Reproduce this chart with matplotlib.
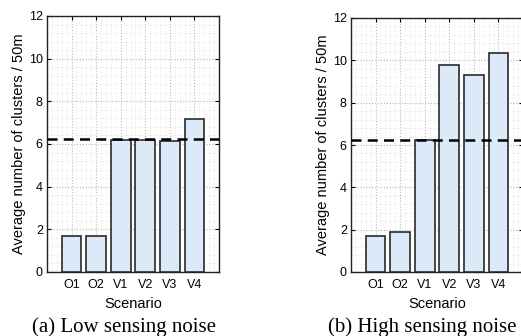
import matplotlib.pyplot as plt
from matplotlib.ticker import MultipleLocator

scenarios = ['O1', 'O2', 'V1', 'V2', 'V3', 'V4']
low_noise = [1.71, 1.71, 6.19, 6.2, 6.12, 7.17]
high_noise = [1.72, 1.9, 6.22, 9.76, 9.32, 10.33]
baseline = 6.22
captions = ['(a) Low sensing noise', '(b) High sensing noise']

plt.rcParams['font.family'] = 'Liberation Sans'

fig = plt.figure(figsize=(5.21, 3.36), dpi=100)
ax1 = fig.add_axes([47/521, 1 - 272/336, 172/521, 256/336])
ax2 = fig.add_axes([351/521, 1 - 272/336, 172/521, 254/336])

pos = list(range(1, len(scenarios) + 1))
for ax, vals, cap, cx in [(ax1, low_noise, captions[0], 124/521), (ax2, high_noise, captions[1], 422/521)]:
    ax.bar(pos, vals, width=0.8, color='#dce9f8', edgecolor='#2a2a2a', linewidth=1.2, zorder=3)
    ax.axhline(baseline, color='black', linestyle=(0, (4, 2.5)), linewidth=1.8, zorder=4)
    ax.set_xlim(0, 7)
    ax.set_ylim(0, 12)
    ax.set_xticks(pos)
    ax.set_xticklabels(scenarios)
    ax.set_yticks(range(0, 13, 2))
    ax.xaxis.set_minor_locator(MultipleLocator(0.2))
    ax.yaxis.set_minor_locator(MultipleLocator(0.4))
    ax.grid(which='major', color='#b8b8b8', linestyle=':', linewidth=0.8, zorder=0)
    ax.grid(which='minor', color='#e2e2e2', linestyle=':', linewidth=0.6, zorder=0)
    ax.tick_params(which='major', direction='in', top=True, right=True, length=3, labelsize=9, pad=3)
    ax.tick_params(axis='x', which='major', pad=5)
    ax.tick_params(which='minor', length=0)
    for s in ax.spines.values():
        s.set_linewidth(1.0)
        s.set_color('#222222')
    ax.set_ylabel('Average number of clusters / 50m', fontsize=10.5, labelpad=2)
    ax.set_xlabel('Scenario', fontsize=10.5, labelpad=4)
    fig.text(cx, 4/336, cap, ha='center', va='baseline', fontsize=15, family='Liberation Serif')

fig.savefig('out.png', dpi=100)
